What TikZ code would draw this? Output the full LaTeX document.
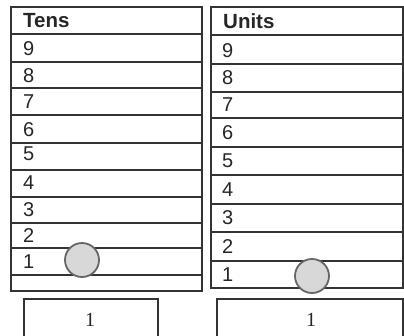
\documentclass[tikz,border=0pt]{standalone}
\usepackage{fontspec}
\setmainfont{Liberation Sans}
\newfontfamily\serifnum{Liberation Serif}
\definecolor{linec}{HTML}{333333}
\definecolor{ballfill}{HTML}{D8D8D8}
\definecolor{ballline}{HTML}{666666}
\begin{document}
\begin{tikzpicture}[x=1pt,y=-1pt,
  rowline/.style={draw=linec,line width=1.4pt},
  digit/.style={anchor=west,inner sep=0pt,font=\fontsize{20}{20}\selectfont,text=black!85},
  head/.style={anchor=west,inner sep=0pt,font=\fontsize{20.5}{20.5}\selectfont\bfseries,text=black!85},
  ball/.style={circle,draw=ballline,fill=ballfill,line width=1.8pt,minimum size=34pt,inner sep=0pt},
  valbox/.style={draw=linec,line width=1.4pt},
  valtext/.style={inner sep=0pt,font=\serifnum\fontsize{20}{20}\selectfont,text=black!85}]
\useasboundingbox (0,0) rectangle (404,335);
\clip (0,0) rectangle (404,335);
\fill[white] (0,0) rectangle (404,335);
% Left table (Tens)
\draw[rowline] (11,7) rectangle (202,291);
\foreach \y in {34,62,88,115,143,170,197,223,248,275}{
  \draw[rowline] (11,\y) -- (202,\y);
}
\node[head] (tens) at (23,21) {Tens};
\node[digit] (t9) at (23,49) {9};
\node[digit] (t8) at (23,76) {8};
\node[digit] (t7) at (23,102) {7};
\node[digit] (t6) at (23,130) {6};
\node[digit] (t5) at (23,154) {5};
\node[digit] (t4) at (23,183) {4};
\node[digit] (t3) at (23,210) {3};
\node[digit] (t2) at (23,236) {2};
\node[digit] (t1) at (23,262) {1};
\node[ball] (tball) at (82,260) {};
% Right table (Units)
\draw[rowline] (211,7) -- (211,288) -- (403,288) -- (403,7) -- cycle;
\foreach \y in {35,64,92,118,147,175,204,232,261}{
  \draw[rowline] (211,\y) -- (403,\y);
}
\node[head] (units) at (223,21) {Units};
\node[digit] (u9) at (222,51) {9};
\node[digit] (u8) at (222,78) {8};
\node[digit] (u7) at (222,105) {7};
\node[digit] (u6) at (222,133) {6};
\node[digit] (u5) at (222,161) {5};
\node[digit] (u4) at (222,190) {4};
\node[digit] (u3) at (222,218) {3};
\node[digit] (u2) at (222,247) {2};
\node[digit] (u1) at (222,275) {1};
\node[ball] (uball) at (312,276) {};
% Bottom value boxes
\draw[valbox] (24,299) rectangle (158,345);
\node[valtext] (tval) at (90,320) {1};
\draw[valbox] (217,299) rectangle (403,345);
\node[valtext] (uval) at (311,320) {1};
\end{tikzpicture}
\end{document}
